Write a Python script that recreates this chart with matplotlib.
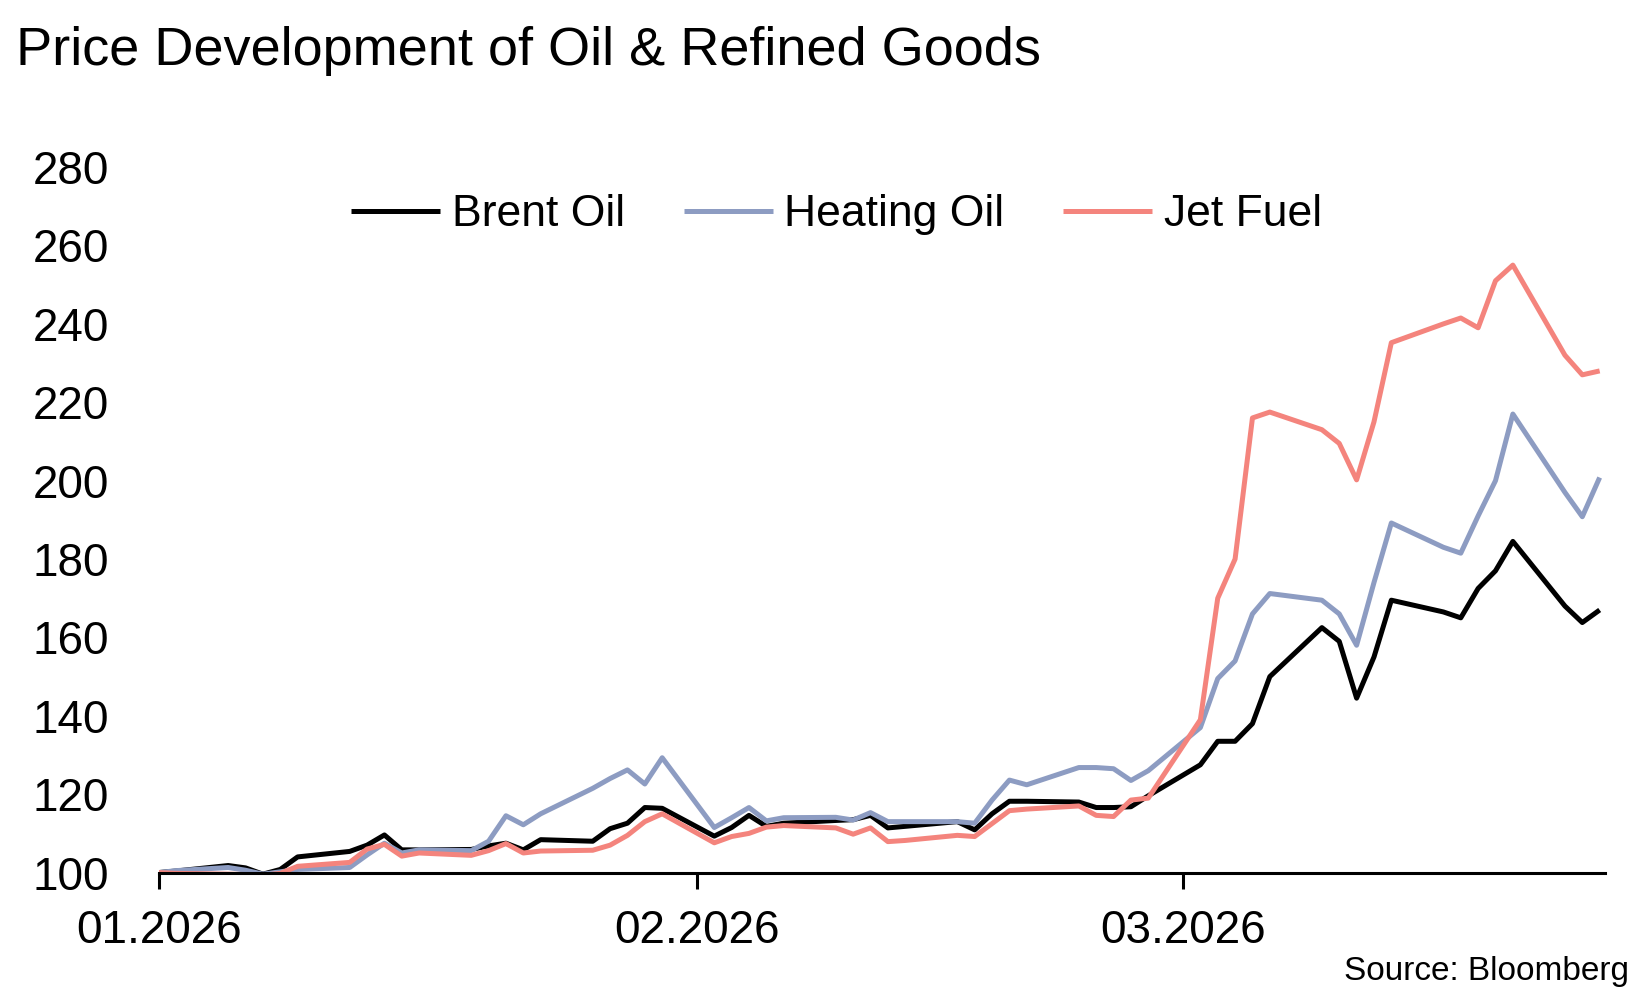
import matplotlib
matplotlib.use("Agg")
import matplotlib.pyplot as plt
import matplotlib.dates as mdates
import pandas as pd

plt.rcParams["font.family"] = ["Liberation Sans", "DejaVu Sans"]

# business days (index, Jan 1 2026 = 100)
dates = pd.to_datetime([
    "2026-01-01", "2026-01-02", "2026-01-05", "2026-01-06", "2026-01-07", "2026-01-08", "2026-01-09",
    "2026-01-12", "2026-01-13", "2026-01-14", "2026-01-15", "2026-01-16",
    "2026-01-19", "2026-01-20", "2026-01-21", "2026-01-22", "2026-01-23",
    "2026-01-26", "2026-01-27", "2026-01-28", "2026-01-29", "2026-01-30",
    "2026-02-02", "2026-02-03", "2026-02-04", "2026-02-05", "2026-02-06",
    "2026-02-09", "2026-02-10", "2026-02-11", "2026-02-12", "2026-02-13",
    "2026-02-16", "2026-02-17", "2026-02-18", "2026-02-19", "2026-02-20",
    "2026-02-23", "2026-02-24", "2026-02-25", "2026-02-26", "2026-02-27",
    "2026-03-02", "2026-03-03", "2026-03-04", "2026-03-05", "2026-03-06",
    "2026-03-09", "2026-03-10", "2026-03-11", "2026-03-12", "2026-03-13",
    "2026-03-16", "2026-03-17", "2026-03-18", "2026-03-19", "2026-03-20",
    "2026-03-23", "2026-03-24", "2026-03-25",
])

brent = [100.0, 100.4, 101.8, 101.2, 99.6, 100.8, 104.0,
         105.4, 107.0, 109.6, 105.8, 105.8,
         105.9, 106.8, 107.5, 105.8, 108.4,
         108.0, 111.2, 112.6, 116.6, 116.4,
         109.3, 111.5, 114.6, 111.8, 112.6,
         113.3, 113.5, 114.6, 111.4, 111.8,
         113.0, 110.9, 115.0, 118.2, 118.2,
         118.0, 116.6, 116.6, 116.8, 119.6,
         127.5, 133.5, 133.5, 138.0, 150.0,
         162.5, 159.0, 144.5, 155.0, 169.5,
         166.5, 165.0, 172.5, 177.0, 184.5,
         168.0, 163.8, 167.0]

heating = [100.0, 100.5, 101.3, 100.6, 99.6, 100.2, 100.8,
           101.3, 104.5, 107.5, 105.0, 105.8,
           105.6, 108.0, 114.5, 112.2, 115.0,
           121.5, 124.0, 126.2, 122.6, 129.3,
           111.5, 114.0, 116.6, 113.2, 114.0,
           114.1, 113.4, 115.3, 113.0, 113.0,
           113.0, 112.6, 118.5, 123.6, 122.4,
           126.8, 126.8, 126.5, 123.5, 126.0,
           137.0, 149.5, 154.0, 166.0, 171.2,
           169.5, 166.0, 158.0, 174.0, 189.2,
           183.0, 181.5, 191.0, 200.0, 217.0,
           197.0, 190.8, 200.8]

jet = [100.0, 99.8, 99.6, 99.5, 99.3, 99.8, 101.6,
       102.6, 106.0, 107.2, 104.2, 105.0,
       104.4, 105.6, 107.4, 105.0, 105.5,
       105.7, 107.0, 109.5, 113.0, 115.0,
       107.6, 109.2, 110.0, 111.6, 112.0,
       111.4, 109.8, 111.4, 107.9, 108.2,
       109.5, 109.2, 112.5, 115.8, 116.2,
       117.0, 114.6, 114.3, 118.5, 119.0,
       139.0, 170.0, 180.0, 216.0, 217.5,
       213.0, 209.5, 200.2, 215.0, 235.2,
       240.0, 241.5, 239.0, 251.0, 255.0,
       232.0, 227.0, 228.0]

series = {"Brent Oil": brent, "Heating Oil": heating, "Jet Fuel": jet}
colors = {"Brent Oil": "#000000", "Heating Oil": "#8D9CC2", "Jet Fuel": "#F4847D"}

fig = plt.figure(figsize=(16.5, 9.9), dpi=100)
ax = fig.add_axes([0.0962, 0.1186, 0.8768, 0.7126])

for name, vals in series.items():
    ax.plot(dates, vals, color=colors[name], lw=3.6, label=name,
            solid_joinstyle="round", solid_capstyle="butt")

ax.set_ylim(100, 280)
ax.set_yticks(range(100, 281, 20))
ax.set_xlim(dates[0], dates[-1] + pd.Timedelta(hours=8))
ax.xaxis.set_major_locator(mdates.MonthLocator())
ax.xaxis.set_major_formatter(mdates.DateFormatter("%m.%Y"))

for s in ["top", "right", "left"]:
    ax.spines[s].set_visible(False)
ax.spines["bottom"].set_linewidth(2.2)
ax.spines["bottom"].set_zorder(5)

ax.tick_params(axis="y", length=0, pad=36, labelsize=33)
ax.tick_params(axis="x", direction="out", length=11.5, width=2.2, pad=15, labelsize=33)

fig.text(0.0096, 0.934, "Price Development of Oil & Refined Goods", fontsize=39,
         ha="left", va="baseline")
fig.text(0.987, 0.010, "Source: Bloomberg", fontsize=24, ha="right", va="baseline")

ax.legend(loc="center", bbox_to_anchor=(0.507, 0.783), bbox_transform=fig.transFigure,
          ncol=3, frameon=False, fontsize=32, handlelength=2.0, handletextpad=0.26,
          columnspacing=1.33)

fig.savefig("out.png", dpi=100)
